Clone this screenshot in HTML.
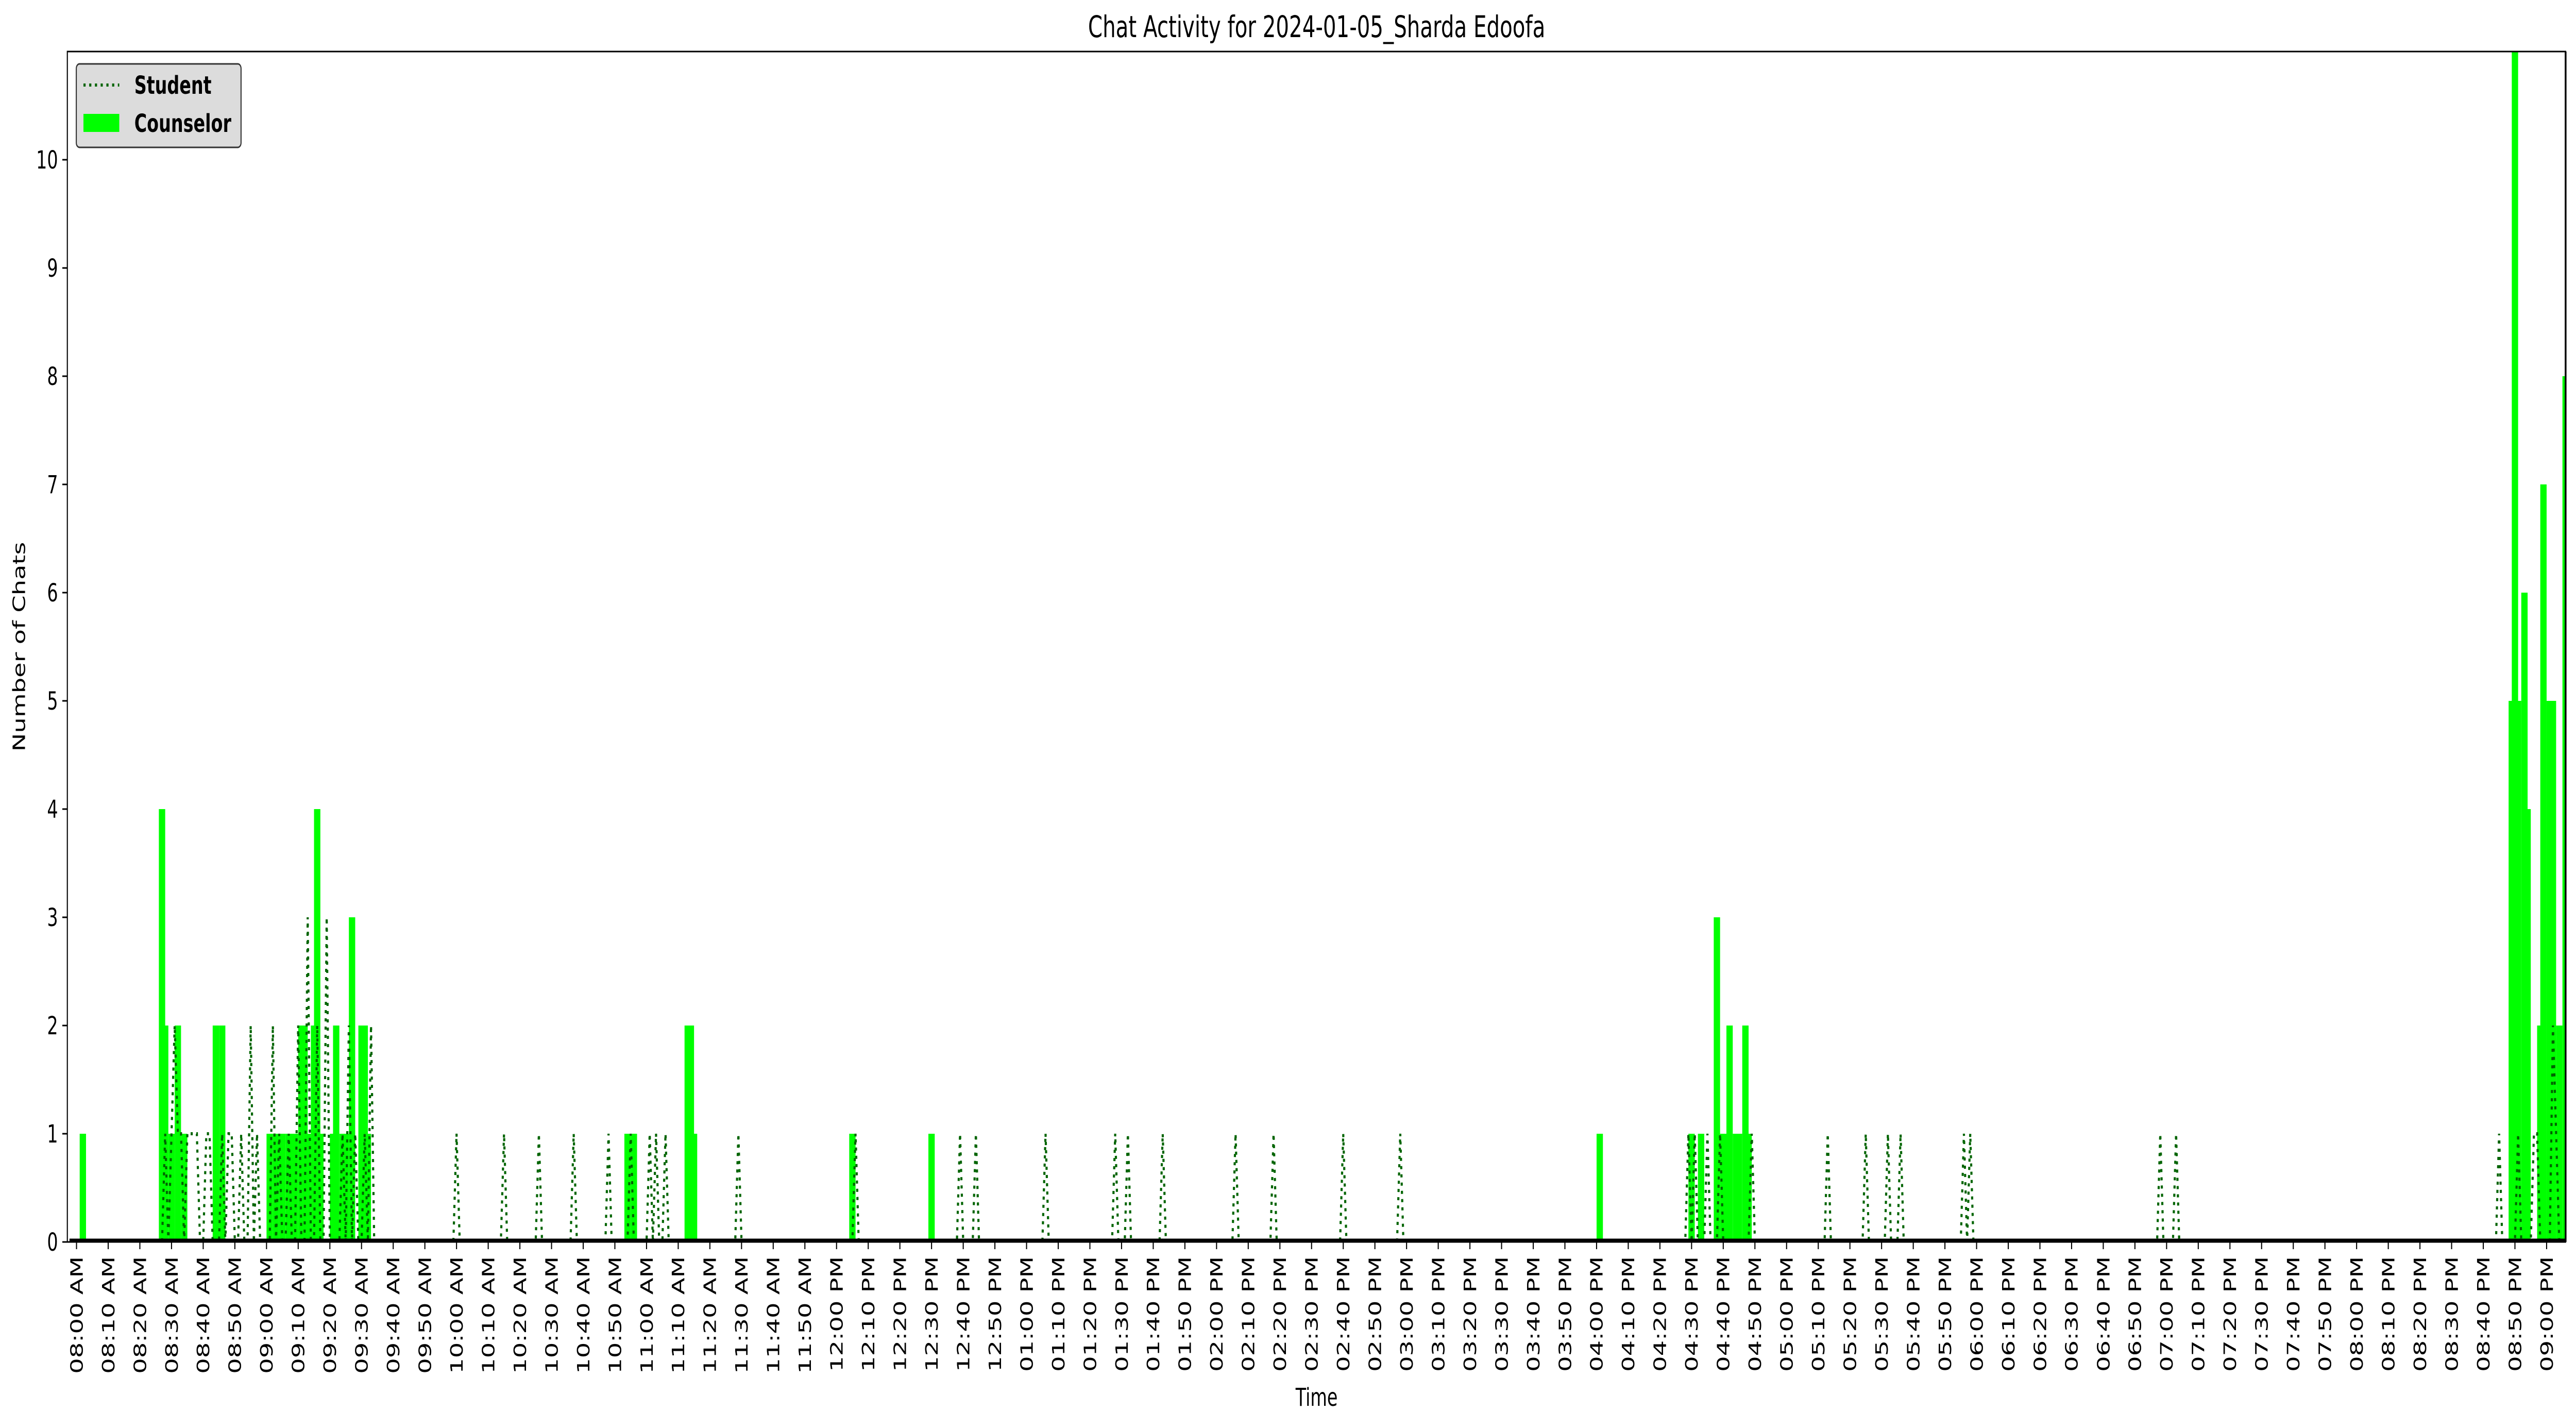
<!DOCTYPE html>
<html><head><meta charset="utf-8"><style>
html,body{margin:0;padding:0;background:#fff;width:100%;height:100%;overflow:hidden}
svg{display:block;width:100vw;height:100vh;font-family:"DejaVu Sans","Liberation Sans",sans-serif}
</style></head><body>
<svg id="chart" xmlns="http://www.w3.org/2000/svg" viewBox="0 0 7192 2771" preserveAspectRatio="none">
<defs><clipPath id="plotclip"><rect x="188" y="100" width="6975" height="2310"/></clipPath></defs>
<rect x="0" y="0" width="7192" height="2771" fill="#fff"/>
<text x="3676" y="72" font-size="58" text-anchor="middle">Chat Activity for 2024-01-05_Sharda Edoofa</text>
<text x="3676" y="2728" font-size="48" text-anchor="middle">Time</text>
<text transform="translate(70,1255) rotate(-90)" font-size="48" text-anchor="middle">Number of Chats</text>
<g id="bars" clip-path="url(#plotclip)"></g>
<g id="student" clip-path="url(#plotclip)"></g>
<g id="axes"></g>
<g id="legend">
  <rect x="213" y="124" width="460" height="162" rx="9" fill="#dcdcdc" stroke="#333" stroke-width="3"/>
  <line x1="233" y1="165" x2="333" y2="165" stroke="#006400" stroke-width="6" stroke-dasharray="6 10"/>
  <text x="375" y="182" font-size="48" font-weight="bold">Student</text>
  <rect x="233" y="221" width="100" height="35" fill="#00ff00"/>
  <text x="375" y="256" font-size="48" font-weight="bold">Counselor</text>
</g>
</svg>
<script>
// minutes after 08:00 AM
const counselorMinutes = [2,27,28,30,32,34,44,46,61,63,65,67,69,71,72,73,75,76,77,81,82,84,85,87,90,91,92,174,176,193,194,195,245,270,481,510,513,518,520,521,522,524,525,527,528,769,770,771,773,774,778,779,781,782,784,786];
const counselorCounts  = [1,4,2,1,2,1,2,2,1,1,1,1,1,2,2,1,2,4,1,1,2,1,1,3,2,2,1,1,1,2,2,1,1,1,1,1,1,3,1,1,2,1,1,2,1,5,11,5,6,4,2,7,5,5,2,8];
const studentMinutes = [28,30,31,32,33,35,36,37,38,41,42,46,48,49,52,55,57,62,64,67,70,73,76,79,84,86,88,91,93,120,135,146,157,168,175,181,183,186,209,246,279,284,306,328,332,343,366,378,400,418,509,511,515,519,529,553,565,572,576,596,598,658,663,765,771,776,777,782,783];
const studentCounts  = [1,1,2,1,1,1,1,1,1,1,1,1,1,1,1,2,1,2,1,1,2,3,2,3,1,2,1,1,2,1,1,1,1,1,1,1,1,1,1,1,1,1,1,1,1,1,1,1,1,1,1,1,1,1,1,1,1,1,1,1,1,1,1,1,1,1,1,2,1];
const yTicks = [0,1,2,3,4,5,6,7,8,9,10];
const xTickMinutes = []; for (let t = 0; t <= 780; t += 10) xTickMinutes.push(t);

const NS = "http://www.w3.org/2000/svg";
const L = 188, R = 7163, T = 100, B = 2410;
const XMIN = -2.9, XMAX = 786.0, YMIN = 0, YMAX = 11;
const X = m => L + (m - XMIN) / (XMAX - XMIN) * (R - L);
const Y = v => B - (v - YMIN) / (YMAX - YMIN) * (B - T);
function mk(tag, attrs, parent) { const e = document.createElementNS(NS, tag); for (const k in attrs) e.setAttribute(k, attrs[k]); parent.appendChild(e); return e; }
function label(m) { let h = 8 + Math.floor(m / 60), mm = m % 60; const ap = h >= 12 ? "PM" : "AM"; let h12 = h > 12 ? h - 12 : h; return String(h12).padStart(2, "0") + ":" + String(mm).padStart(2, "0") + " " + ap; }

const gb = document.getElementById("bars");
counselorMinutes.forEach((m, i) => {
  const r = mk("rect", {x: X(m - 1), y: Y(counselorCounts[i]), width: X(m + 1) - X(m - 1), height: Y(0) - Y(counselorCounts[i]), fill: "#00ff00"}, gb);
  
  
});

const gs = document.getElementById("student");
const full = new Array(787).fill(0);
studentMinutes.forEach((m, i) => { full[m] = studentCounts[i]; });
let d = "";
full.forEach((v, m) => { d += (m ? "L" : "M") + X(m).toFixed(1) + " " + Y(v).toFixed(1); });
const p = mk("path", {d: d, fill: "none", stroke: "#006400", "stroke-width": 6, "stroke-dasharray": "6 10"}, gs);



const ga = document.getElementById("axes");
const base = mk("line", {x1: L + 6, y1: B - 3, x2: R, y2: B - 3, stroke: "#000", "stroke-width": 7}, ga);


const frame = mk("rect", {x: L, y: T, width: R - L, height: B - T, fill: "none", stroke: "#000", "stroke-width": 3}, ga);


const rs = mk("line", {x1: R, y1: T, x2: R, y2: B, stroke: "#000", "stroke-width": 5}, ga);


yTicks.forEach(v => {
  const t = mk("line", {x1: L - 14, y1: Y(v), x2: L, y2: Y(v), stroke: "#000", "stroke-width": 3}, ga);
  
  
  const tx = mk("text", {x: L - 26, y: Y(v) + 17, "font-size": 48, "text-anchor": "end"}, ga);
  tx.textContent = String(v);
  
  
});
xTickMinutes.forEach(m => {
  const x = X(m);
  const t = mk("line", {x1: x, y1: B, x2: x, y2: B + 14, stroke: "#000", "stroke-width": 3}, ga);
  
  
  const tx = mk("text", {transform: "translate(" + (x + 17).toFixed(1) + "," + (B + 28) + ") rotate(-90)", "font-size": 48, "text-anchor": "end"}, ga);
  tx.textContent = label(m);
  
  
});
</script>
</body></html>
